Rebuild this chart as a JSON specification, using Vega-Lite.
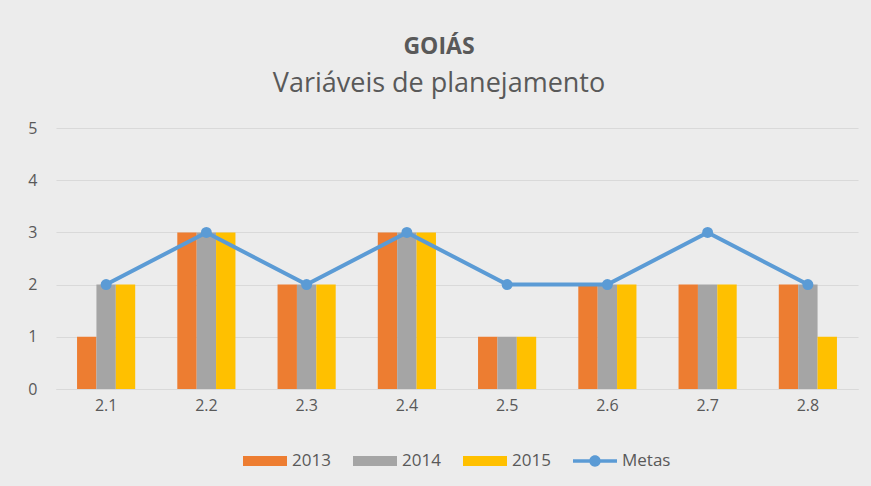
{
  "$schema": "https://vega.github.io/schema/vega-lite/v6.json",
  "width": 802,
  "height": 261,
  "autosize": {"type": "none"},
  "padding": {"left": 56, "top": 128, "right": 13, "bottom": 97},
  "background": "#ececec",
  "config": {
    "view": {"stroke": null},
    "legend": {"layout": {"bottom": {"anchor": "middle"}}}
  },
  "title": {
    "text": "GOIÁS",
    "subtitle": "Variáveis de planejamento",
    "font": "Open Sans",
    "fontSize": 23,
    "fontWeight": "bold",
    "color": "#595959",
    "subtitleFont": "Open Sans",
    "subtitleFontSize": 27,
    "subtitleColor": "#595959",
    "subtitlePadding": 12,
    "anchor": "middle",
    "offset": 23,
    "dx": -18
  },
  "data": {
    "values": [
      {"item": "2.1", "serie": "2013", "valor": 1},
      {"item": "2.1", "serie": "2014", "valor": 2},
      {"item": "2.1", "serie": "2015", "valor": 2},
      {"item": "2.1", "serie": "Metas", "valor": 2},
      {"item": "2.2", "serie": "2013", "valor": 3},
      {"item": "2.2", "serie": "2014", "valor": 3},
      {"item": "2.2", "serie": "2015", "valor": 3},
      {"item": "2.2", "serie": "Metas", "valor": 3},
      {"item": "2.3", "serie": "2013", "valor": 2},
      {"item": "2.3", "serie": "2014", "valor": 2},
      {"item": "2.3", "serie": "2015", "valor": 2},
      {"item": "2.3", "serie": "Metas", "valor": 2},
      {"item": "2.4", "serie": "2013", "valor": 3},
      {"item": "2.4", "serie": "2014", "valor": 3},
      {"item": "2.4", "serie": "2015", "valor": 3},
      {"item": "2.4", "serie": "Metas", "valor": 3},
      {"item": "2.5", "serie": "2013", "valor": 1},
      {"item": "2.5", "serie": "2014", "valor": 1},
      {"item": "2.5", "serie": "2015", "valor": 1},
      {"item": "2.5", "serie": "Metas", "valor": 2},
      {"item": "2.6", "serie": "2013", "valor": 2},
      {"item": "2.6", "serie": "2014", "valor": 2},
      {"item": "2.6", "serie": "2015", "valor": 2},
      {"item": "2.6", "serie": "Metas", "valor": 2},
      {"item": "2.7", "serie": "2013", "valor": 2},
      {"item": "2.7", "serie": "2014", "valor": 2},
      {"item": "2.7", "serie": "2015", "valor": 2},
      {"item": "2.7", "serie": "Metas", "valor": 3},
      {"item": "2.8", "serie": "2013", "valor": 2},
      {"item": "2.8", "serie": "2014", "valor": 2},
      {"item": "2.8", "serie": "2015", "valor": 1},
      {"item": "2.8", "serie": "Metas", "valor": 2}
    ]
  },
  "encoding": {
    "x": {
      "field": "item",
      "type": "nominal",
      "scale": {"paddingInner": 0.42, "paddingOuter": 0.21},
      "axis": {
        "title": null,
        "labelAngle": 0,
        "ticks": false,
        "domainColor": "#d9d9d9",
        "labelFont": "Open Sans",
        "labelFontSize": 16,
        "labelColor": "#595959",
        "labelPadding": 8
      }
    },
    "y": {
      "field": "valor",
      "type": "quantitative",
      "scale": {"domain": [0, 5]},
      "axis": {
        "title": null,
        "values": [0, 1, 2, 3, 4, 5],
        "domain": false,
        "ticks": false,
        "gridColor": "#d9d9d9",
        "labelFont": "Open Sans",
        "labelFontSize": 16,
        "labelColor": "#595959",
        "labelPadding": 19
      }
    },
    "color": {
      "field": "serie",
      "type": "nominal",
      "scale": {
        "domain": ["2013", "2014", "2015", "Metas"],
        "range": ["#ED7D31", "#A5A5A5", "#FFC000", "#5B9BD5"]
      },
      "legend": {
        "title": null,
        "orient": "bottom",
        "direction": "horizontal",
        "offset": 26,
        "labelFont": "Open Sans",
        "labelFontSize": 17,
        "labelColor": "#595959",
        "labelOffset": 5,
        "columnPadding": 22,
        "symbolSize": 1936,
        "symbolType": "M-1,-0.23H1V0.23H-1Z",
        "symbolStrokeWidth": 0,
        "encode": {
          "symbols": {
            "update": {
              "shape": {"signal": "datum.value === 'Metas' ? 'M-1,-0.08H1V0.08H-1Z M0.26,0A0.26,0.26 0 1,1 -0.26,0A0.26,0.26 0 1,1 0.26,0Z' : 'M-1,-0.23H1V0.23H-1Z'"},
              "fill": {"scale": "color", "field": "value"},
              "stroke": {"value": "transparent"},
              "strokeWidth": {"value": 0},
              "opacity": {"value": 1}
            }
          }
        }
      }
    }
  },
  "layer": [
    {
      "transform": [{"filter": "datum.serie !== 'Metas'"}],
      "mark": {"type": "bar"},
      "encoding": {
        "xOffset": {"field": "serie", "type": "nominal", "scale": {"paddingInner": 0, "paddingOuter": 0}}
      }
    },
    {
      "transform": [{"filter": "datum.serie === 'Metas'"}],
      "mark": {"type": "line", "strokeWidth": 4, "point": {"size": 120, "filled": true, "opacity": 1}},
      "encoding": {}
    }
  ]
}
